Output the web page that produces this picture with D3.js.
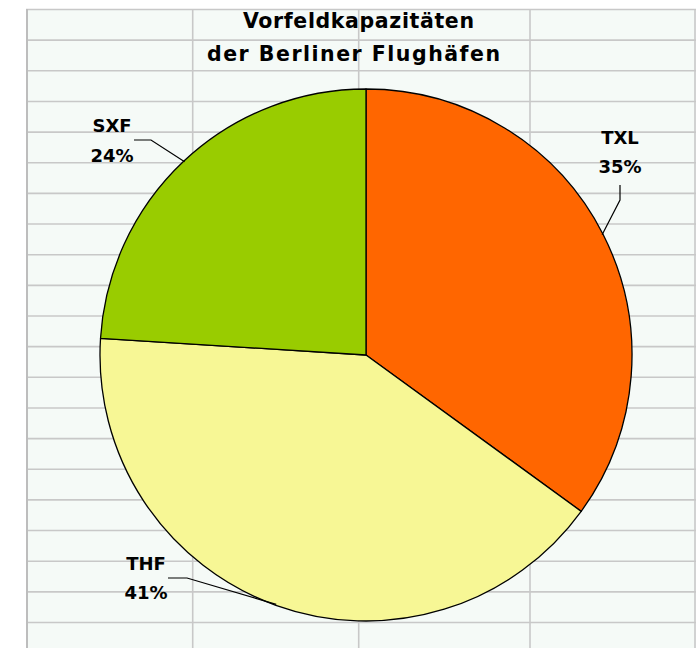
<!DOCTYPE html>
<html>
<head>
<meta charset="utf-8">
<script src="https://cdn.jsdelivr.net/npm/d3@7"></script>
<style>
  html, body { margin: 0; padding: 0; background: #fff; }
  svg { display: block; }
  text { font-family: "DejaVu Sans", Verdana, sans-serif; font-weight: bold; fill: #000; }
</style>
</head>
<body>
<svg id="chart" width="696" height="648"></svg>
<script>
const titleLines = ["Vorfeldkapazitäten", "der Berliner Flughäfen"];
const categories = ["TXL", "THF", "SXF"];
const values = [35, 41, 24];
const percentLabels = ["35%", "41%", "24%"];
const colors = ["#ff6600", "#f7f795", "#99cc00"];

const W = 696, H = 648;
const svg = d3.select("#chart");

// spreadsheet-like background grid
const gridLeft = 26, gridTop = 9, rowH = 30.65;
svg.append("rect").attr("x", gridLeft).attr("y", gridTop)
  .attr("width", W - gridLeft).attr("height", H - gridTop).attr("fill", "#f5faf7");
const rows = d3.range(0, 21).map(i => gridTop + 0.5 + i * rowH);
svg.selectAll("line.h").data(rows).join("line")
  .attr("x1", gridLeft).attr("x2", W).attr("y1", d => d).attr("y2", d => d)
  .attr("stroke", "#c8c8c8").attr("stroke-width", 1.6);
const cols = [192.7, 358.7, 530, 695];
svg.selectAll("line.v").data(cols).join("line")
  .attr("x1", d => d).attr("x2", d => d).attr("y1", gridTop).attr("y2", H)
  .attr("stroke", "#c8c8c8").attr("stroke-width", 1.6);
svg.append("line").attr("x1", gridLeft + 1).attr("x2", gridLeft + 1)
  .attr("y1", gridTop).attr("y2", H).attr("stroke", "#bdbdbd").attr("stroke-width", 2);

// title
svg.append("text").attr("x", 243).attr("y", 28)
  .attr("font-size", 20.5).attr("textLength", 231).attr("lengthAdjust", "spacing")
  .text(titleLines[0]);
svg.append("text").attr("x", 207).attr("y", 61)
  .attr("font-size", 20.5).attr("textLength", 293).attr("lengthAdjust", "spacing")
  .text(titleLines[1]);

// pie
const cx = 366, cy = 355, R = 266;
const g = svg.append("g").attr("transform", `translate(${cx},${cy})`);
const pie = d3.pie().sort(null).value(d => d)(values);
const arc = d3.arc().innerRadius(0).outerRadius(R);
g.selectAll("path").data(pie).join("path")
  .attr("d", arc)
  .attr("fill", (d, i) => colors[i])
  .attr("stroke", "#000").attr("stroke-width", 1.3).attr("stroke-linejoin", "round");

// labels with leader lines
const labelPos = [
  { x: 620, y: 143.5, lx: [[620, 185], [620, 200]] },
  { x: 146, y: 569.5, lx: [[168, 578], [187, 578]] },
  { x: 112, y: 132, lx: [[134, 140], [151, 140]] }
];
pie.forEach((d, i) => {
  const mid = (d.startAngle + d.endAngle) / 2;
  const ex = cx + Math.sin(mid) * (R - 1);
  const ey = cy - Math.cos(mid) * (R - 1);
  const p = labelPos[i];
  const pts = [p.lx[0], p.lx[1], [ex, ey]];
  svg.append("path").attr("d", d3.line()(pts))
    .attr("fill", "none").attr("stroke", "#000").attr("stroke-width", 1.2);
  svg.append("text").attr("x", p.x).attr("y", p.y).attr("text-anchor", "middle")
    .attr("font-size", 18).text(categories[i]);
  svg.append("text").attr("x", p.x).attr("y", p.y + 29.5).attr("text-anchor", "middle")
    .attr("font-size", 18).text(percentLabels[i]);
});
</script>
</body>
</html>
